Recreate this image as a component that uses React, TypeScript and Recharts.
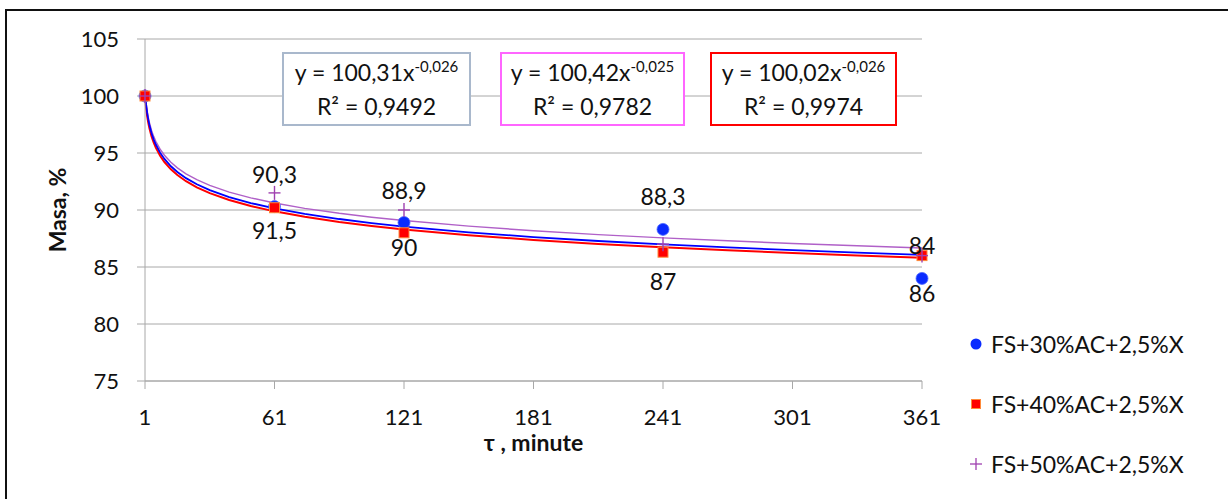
import React from "react";
import { ComposedChart, Scatter, Line, XAxis, YAxis, CartesianGrid, Label } from "recharts";

const times = [1, 61, 121, 241, 361];
const mass30 = [100, 90.3, 88.9, 88.3, 84];
const mass40 = [100, 90.2, 88, 86.3, 86];
const mass50 = [100, 91.5, 90, 87, 86];
const seriesNames = ["FS+30%AC+2,5%X", "FS+40%AC+2,5%X", "FS+50%AC+2,5%X"];

// power trend lines y = a * x^b, as printed in the boxes
const trendA = [100.31, 100.02, 100.42];
const trendB = [-0.026, -0.026, -0.025];
const trendR2 = [0.9492, 0.9974, 0.9782];
const trendX = [1, 1.25, 1.5, 2, 2.5, 3, 4, 5, 6, 8, 10, 13, 16, 20, 25, 31, 40, 50, 61, 75, 91, 106, 121, 151, 181, 211, 241, 271, 301, 331, 361];

const xTicks = [1, 61, 121, 181, 241, 301, 361];
const yTicks = [75, 80, 85, 90, 95, 100, 105];

const FONT = "Lato, 'Open Sans', sans-serif";
const GRID = "#A8A8A8";

const comma = (v: number) => String(v).replace(".", ",");
const points = (ys: number[]) => times.map((x, i) => ({ x, y: ys[i] }));
const labelled = (ys: number[]) => times.map((x, i) => ({ x, y: ys[i], label: i === 0 ? "" : comma(ys[i]) }));
const trend = (k: number) => trendX.map((x) => ({ x, y: trendA[k] * Math.pow(x, trendB[k]) }));

const Dot = (p: any) => <circle cx={p.cx} cy={p.cy} r={6} fill="#0A2BFF" stroke="#4A66FF" strokeWidth={0.8} />;
const Square = (p: any) => <rect x={p.cx - 5} y={p.cy - 5} width={10} height={10} fill="#FF0000" stroke="#FF8A3A" strokeWidth={1} />;
const Plus = (p: any) => (
  <g stroke="#A040B0" strokeWidth={1.4}>
    <line x1={p.cx - 6} y1={p.cy} x2={p.cx + 6} y2={p.cy} />
    <line x1={p.cx} y1={p.cy - 7} x2={p.cx} y2={p.cy + 7} />
  </g>
);
const textAt = (dy: number) => (p: any) =>
  p.payload.label ? (
    <text x={p.cx} y={p.cy + dy} textAnchor="middle" dominantBaseline="central" fontSize={23} fontFamily={FONT} fill="#111">
      {p.payload.label}
    </text>
  ) : (
    <g />
  );

const boxes = [
  { k: 0, left: 282, width: 189, border: "#A9B8CC", bw: 2 },
  { k: 2, left: 500, width: 185, border: "#FF66FF", bw: 2 },
  { k: 1, left: 710, width: 187, border: "#FF0000", bw: 2.5 },
];

function LegendBox() {
  const markers = [
    <svg width={14} height={14}><circle cx={7} cy={7} r={5.5} fill="#0A2BFF" /></svg>,
    <svg width={14} height={14}><rect x={2.5} y={2.5} width={9} height={9} fill="#FF0000" stroke="#FF8A3A" /></svg>,
    <svg width={14} height={14}><g stroke="#A040B0" strokeWidth={1.3}><line x1={1} y1={7} x2={13} y2={7} /><line x1={7} y1={1} x2={7} y2={13} /></g></svg>,
  ];
  return (
    <div style={{ position: "absolute", left: 969, top: 314, fontFamily: FONT, fontSize: 23, color: "#111" }}>
      {seriesNames.map((n, i) => (
        <div key={n} style={{ display: "flex", alignItems: "center", height: 60 }}>
          <span style={{ width: 22, display: "flex" }}>{markers[i]}</span>
          <span>{n}</span>
        </div>
      ))}
    </div>
  );
}

export default function App() {
  return (
    <div style={{ position: "absolute", left: 0, top: 0, width: 1228, height: 499, background: "#fff", fontFamily: FONT }}>
      <div style={{ position: "absolute", left: 5, top: 9, right: 0, bottom: 0, borderTop: "2px solid #111", borderLeft: "2px solid #111" }} />
      <ComposedChart width={1228} height={499} margin={{ top: 39, right: 306, bottom: 88, left: 85 }}>
        <CartesianGrid stroke={GRID} vertical={false} />
        <XAxis
          dataKey="x"
          type="number"
          domain={[1, 361]}
          ticks={xTicks}
          interval={0}
          height={30}
          stroke={GRID}
          tickSize={8}
          tickMargin={20}
          tick={{ fill: "#111", fontSize: 22, fontFamily: FONT }}
        >
          <Label value="τ , minute" position="bottom" offset={24} style={{ fontWeight: "bold", fontSize: 23, fontFamily: FONT, fill: "#111" }} />
        </XAxis>
        <YAxis
          type="number"
          domain={[75, 105]}
          ticks={yTicks}
          interval={0}
          width={60}
          stroke={GRID}
          tickSize={8}
          tickMargin={18}
          tick={{ fill: "#111", fontSize: 22, fontFamily: FONT }}
        >
          <Label
            content={({ viewBox }: any) => {
              const cx = 57;
              const cy = viewBox.y + viewBox.height / 2;
              return (
                <text x={cx} y={cy} transform={`rotate(-90 ${cx} ${cy})`} textAnchor="middle" dominantBaseline="central" fontWeight="bold" fontSize={23} fontFamily={FONT} fill="#111">
                  Masa, %
                </text>
              );
            }}
          />
        </YAxis>
        <Scatter name={seriesNames[0]} data={points(mass30)} dataKey="y" shape={Dot} isAnimationActive={false} />
        <Scatter name={seriesNames[1]} data={points(mass40)} dataKey="y" shape={Square} isAnimationActive={false} />
        <Scatter name={seriesNames[2]} data={points(mass50)} dataKey="y" shape={Plus} isAnimationActive={false} />
        <Line data={trend(2)} dataKey="y" type="linear" stroke="#B060C8" strokeWidth={1.4} dot={false} activeDot={false} isAnimationActive={false} />
        <Line data={trend(1)} dataKey="y" type="linear" stroke="#FF0000" strokeWidth={2} dot={false} activeDot={false} isAnimationActive={false} />
        <Line data={trend(0)} dataKey="y" type="linear" stroke="#0000FF" strokeWidth={1.8} dot={false} activeDot={false} isAnimationActive={false} />
        <Scatter data={labelled(mass30)} dataKey="y" shape={textAt(-33)} isAnimationActive={false} />
        <Scatter data={labelled(mass50)} dataKey="y" shape={textAt(37)} isAnimationActive={false} />
      </ComposedChart>
      <LegendBox />
      {boxes.map((b) => (
        <div
          key={b.k}
          style={{
            position: "absolute",
            left: b.left,
            top: 52,
            width: b.width,
            height: 74,
            boxSizing: "border-box",
            border: `${b.bw}px solid ${b.border}`,
            background: "#fff",
            fontSize: 23,
            color: "#111",
            display: "flex",
            flexDirection: "column",
            alignItems: "center",
            justifyContent: "center",
            lineHeight: "31px",
          }}
        >
          <div>
            y = {comma(trendA[b.k])}x<sup style={{ fontSize: 15, verticalAlign: 0, position: "relative", top: -9 }}>{comma(trendB[b.k])}</sup>
          </div>
          <div>R² = {comma(trendR2[b.k])}</div>
        </div>
      ))}
    </div>
  );
}
